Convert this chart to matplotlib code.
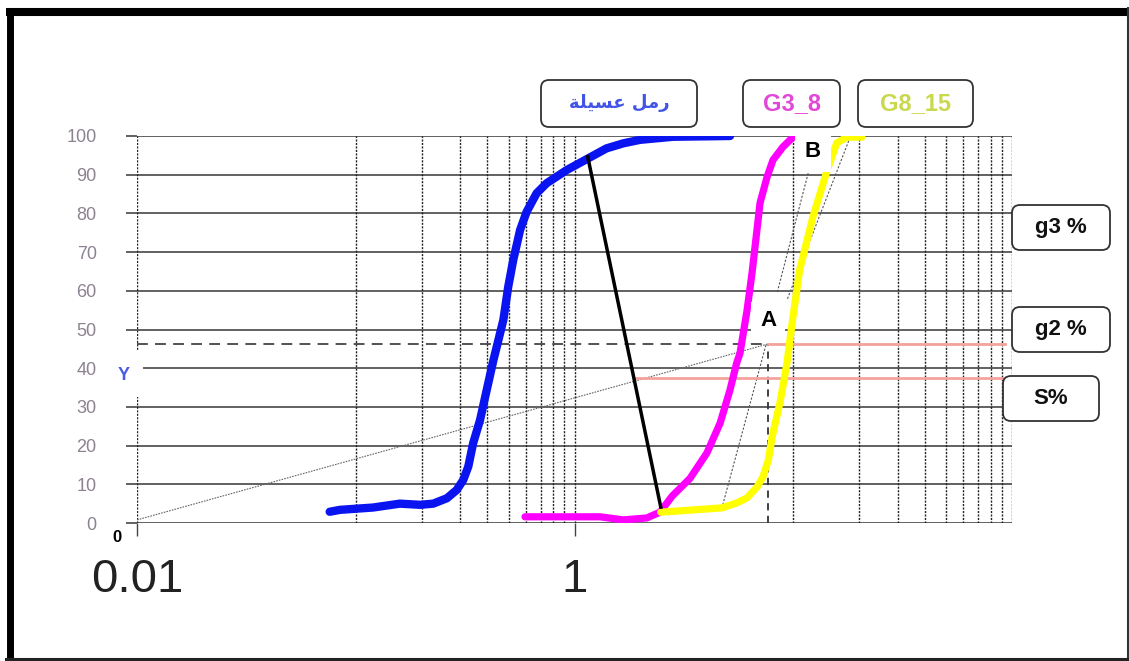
import matplotlib
matplotlib.use('Agg')
from matplotlib import pyplot as plt
from matplotlib.patches import FancyBboxPatch, Rectangle
from matplotlib.lines import Line2D
from matplotlib.transforms import IdentityTransform

W, H = 1129, 661

# grading curves (particle size in mm, % passing)
sand_x = [0.076, 0.0847, 0.120, 0.159, 0.197, 0.226, 0.261, 0.289, 0.310, 0.327, 0.344, 0.370,
          0.397, 0.426, 0.449, 0.473, 0.498, 0.525, 0.564, 0.604, 0.671, 0.746, 0.921, 1.153,
          1.40, 1.67, 1.99, 2.82, 5.14]
sand_y = [2.9, 3.4, 4.0, 5.0, 4.7, 5.0, 6.4, 8.5, 11.1, 14.6, 20.6, 26.6,
          34.4, 42.1, 47.3, 52.5, 61.1, 68.0, 75.7, 80.4, 85.2, 87.8, 91.2, 94.2,
          96.8, 98.1, 99.0, 99.8, 100.0]

g38_x = [0.594, 0.984, 1.31, 1.67, 2.14, 2.46, 2.8, 3.37, 4.03, 4.63, 5.14, 5.51, 5.71, 6.15,
         6.48, 7.05, 7.59, 8.08, 8.98, 9.97]
g38_y = [1.6, 1.6, 1.6, 0.8, 1.3, 2.8, 7.0, 11.5, 18.1, 25.8, 34.4, 41.3, 43.9, 55.0,
         64.6, 82.7, 89.4, 93.8, 97.2, 99.7]

g815_x = [2.48, 4.72, 5.53, 6.15, 6.83, 7.27, 7.7, 8.0, 8.69, 9.36, 9.97, 10.7, 12.3, 14.3,
          15.8, 17.6, 20.6]
g815_y = [2.8, 3.9, 5.2, 6.5, 9.3, 11.9, 16.3, 22.2, 31.0, 41.3, 53.2, 65.4, 79.1, 91.2,
          98.2, 99.7, 99.7]

# construction lines
link_x = [1.15, 2.48]
link_y = [94.6, 4.1]
point_a = (7.7, 46.3)
point_b = (12.3, 95.9)
s_level = 37.5
s_start = 1.87
line_end = 93
diag_x = [0.01, 7.7]
diag_y = [0.8, 46.3]
tangents = [([7.5, 4.72], [46.0, 3.9]),
            ([11.7, 8.43], [90.4, 59.4]),
            ([18.2, 9.36], [99.7, 57.6])]

yticks = list(range(0, 101, 10))
vgrid = [0.01, 0.1, 0.2, 0.3, 0.4, 0.5, 0.6, 0.7, 0.8, 0.9, 1,
         10, 20, 30, 40, 50, 60, 70, 80, 90, 100]

sand_label = '\uFE94\uFEE0\uFEF4\uFEB4\uFECB \uFEDE\uFEE3\uFEAD'  # رمل عسيلة

plt.rcParams['font.family'] = ['Liberation Sans', 'DejaVu Sans']

fig = plt.figure(figsize=(W / 100, H / 100), dpi=100)
ax = fig.add_axes([137 / W, 1 - 523 / H, (1012 - 137) / W, (523 - 136) / H])
ax.set_xscale('log')
ax.set_xlim(0.01, 100)
ax.set_ylim(0, 100)
for s in ax.spines.values():
    s.set_visible(False)

ax.set_yticks(yticks)
ax.set_yticklabels([str(v) for v in yticks], color='#8c8290', fontsize=13)
ax.set_xticks([0.01, 1])
ax.set_xticklabels(['0.01', '1'], fontsize=34, color='#222222')
ax.minorticks_off()
ax.tick_params(axis='y', length=8, width=1.3, color='#555555', pad=21)
ax.tick_params(axis='x', length=9, width=1, color='#444444', pad=16)

for v in yticks:
    ax.axhline(v, color='#555555', lw=1.3, zorder=1)
for v in vgrid:
    ax.axvline(v, color='#222222', lw=1, ls=(0, (1.5, 1)), zorder=1)

# dashed guides to A
ax.plot([0.01, point_a[0]], [point_a[1], point_a[1]], color='#444444', lw=1.3, ls=(0, (6, 4)), zorder=2)
ax.plot([point_a[0], point_a[0]], [0, point_a[1]], color='#333333', lw=1.3, ls=(0, (4, 3)), zorder=2)
ax.plot(diag_x, diag_y, color='#666666', lw=0.8, ls=(0, (1.5, 1)), zorder=2)
for tx, ty in tangents:
    ax.plot(tx, ty, color='#555555', lw=0.8, ls=(0, (2, 1.5)), zorder=2)

# salmon levels
ax.plot([point_a[0], line_end], [point_a[1], point_a[1]], color='#f4a29c', lw=2, zorder=3)
ax.plot([s_start, line_end - 2], [s_level, s_level], color='#f4a29c', lw=2, zorder=3)

ax.plot(sand_x, sand_y, color='#0a14f0', lw=6, solid_capstyle='round', solid_joinstyle='round', zorder=4)
ax.plot(g38_x, g38_y, color='#ff00ff', lw=5.2, solid_capstyle='round', solid_joinstyle='round', zorder=4)
ax.plot(g815_x, g815_y, color='#ffff00', lw=5.2, solid_capstyle='round', solid_joinstyle='round', zorder=5)
ax.plot(link_x, link_y, color='black', lw=2.5, zorder=6)

ax.text(point_a[0], 52.2, 'A', fontsize=16, fontweight='bold', ha='center', va='center', zorder=7,
        bbox=dict(boxstyle='square,pad=0.4', fc='white', ec='none'))
ax.text(point_b[0], point_b[1], 'B', fontsize=16, fontweight='bold', ha='center', va='center', zorder=7,
        bbox=dict(boxstyle='square,pad=0.45', fc='white', ec='none'))

idt = IdentityTransform()


def box(x0, y0, x1, y1, text, color, size, family=None):
    p = FancyBboxPatch((x0, H - y1), x1 - x0, y1 - y0, boxstyle='round,pad=0,rounding_size=8',
                       transform=idt, fc='white', ec='#333333', lw=1.3, zorder=5)
    fig.add_artist(p)
    kw = {}
    if family:
        kw['family'] = family
    fig.text((x0 + x1) / 2, H - (y0 + y1) / 2, text, transform=idt, ha='center', va='center',
             fontsize=size, fontweight='bold', color=color, zorder=6, **kw)


box(541, 80, 697, 127, sand_label, '#4054e6', 13, family=['DejaVu Sans'])
box(743, 80, 840, 127, 'G3_8', '#e248d8', 17)
box(858, 80, 973, 127, 'G8_15', '#cad84e', 17)
box(1012, 205, 1110, 250, 'g3 %', '#111111', 16)
box(1012, 307, 1110, 352, 'g2 %', '#111111', 16)
box(1003, 376, 1099, 421, 'S%', '#111111', 16)

# Y marker on the left axis
fig.add_artist(Rectangle((105, H - 397), 38, 47, transform=idt, fc='white', ec='none', zorder=5))
fig.text(124, H - 376, 'Y', transform=idt, ha='center', va='center', fontsize=13,
         fontweight='bold', color='#4a5ae8', zorder=6)
fig.text(117, H - 537, '0', transform=idt, ha='center', va='center', fontsize=12,
         fontweight='bold', color='black', zorder=6)

# outer frame
fig.add_artist(Line2D([6, W], [H - 12, H - 12], transform=idt, color='black', lw=5.8,
                      solid_capstyle='butt'))
fig.add_artist(Line2D([9.5, 9.5], [0, H - 8], transform=idt, color='black', lw=5,
                      solid_capstyle='butt'))
fig.add_artist(Line2D([W - 1.5, W - 1.5], [0, H - 8], transform=idt, color='#333333', lw=1.5))
fig.add_artist(Line2D([6, W], [2, 2], transform=idt, color='#222222', lw=2.2))

fig.savefig('out.png', dpi=100)
